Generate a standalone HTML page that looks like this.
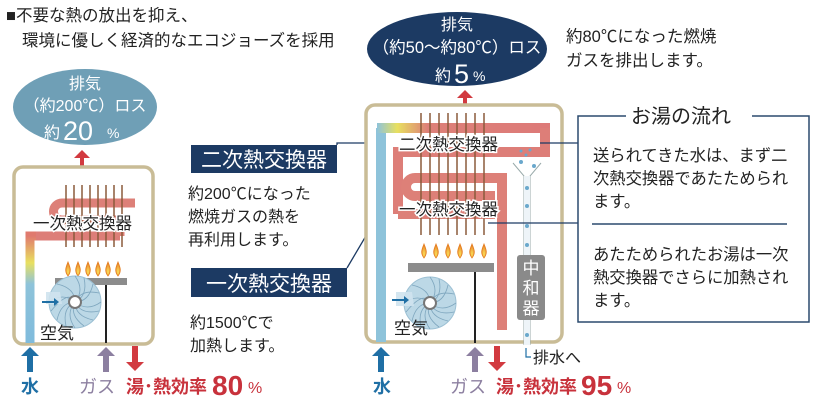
<!DOCTYPE html>
<html><head><meta charset="utf-8"><style>
html,body{margin:0;padding:0;background:#fff;}
svg{display:block;font-family:"Liberation Sans","Noto Sans CJK JP",sans-serif;}
</style></head><body>
<svg width="813" height="403" viewBox="0 0 813 403" xmlns="http://www.w3.org/2000/svg">
<defs>
<linearGradient id="gl" x1="0" y1="1" x2="0" y2="0">
<stop offset="0" stop-color="#7fbbdc"/><stop offset="0.55" stop-color="#8ec3da"/><stop offset="0.75" stop-color="#e8e060"/><stop offset="1" stop-color="#e07a6e"/></linearGradient>
<linearGradient id="gt" x1="0" y1="0" x2="1" y2="0">
<stop offset="0" stop-color="#8ec3da"/><stop offset="0.12" stop-color="#e8e060"/><stop offset="0.3" stop-color="#dd8078"/><stop offset="1" stop-color="#dd7a78"/></linearGradient>
<linearGradient id="rd" x1="0" y1="0" x2="0" y2="1">
<stop offset="0" stop-color="#d86a66"/><stop offset="1" stop-color="#c8202c"/></linearGradient>
<radialGradient id="fl" cx="0.5" cy="0.7" r="0.6"><stop offset="0" stop-color="#fbe25a"/><stop offset="1" stop-color="#e8842a"/></radialGradient>
<g id="flame"><path d="M0,0 C-4,-5 -2,-9 0,-14 C2,-9 4,-5 0,0Z" fill="url(#fl)" stroke="#e47c20" stroke-width="0.8"/></g>
<g id="fan"><circle r="26" fill="#bcd8e6" stroke="#9cc0d4"/>
<g stroke="#7ea6be" stroke-width="0.8" fill="none">
<path d="M0,-26 Q10,-12 0,0"/><path d="M18,-18 Q14,0 0,0"/><path d="M26,0 Q12,10 0,0"/><path d="M18,18 Q0,14 0,0"/><path d="M0,26 Q-10,12 0,0"/><path d="M-18,18 Q-14,0 0,0"/><path d="M-26,0 Q-12,-10 0,0"/><path d="M-18,-18 Q0,-14 0,0"/>
<path d="M9,-24 Q13,-6 0,0"/><path d="M24,-9 Q6,-13 0,0"/><path d="M24,9 Q6,13 0,0"/><path d="M9,24 Q-6,13 0,0"/><path d="M-9,24 Q-13,6 0,0"/><path d="M-24,9 Q-6,-13 0,0"/></g>
<circle r="6" fill="#fff" stroke="#777" stroke-width="2"/></g>
</defs>

<!-- Title -->
<text x="6" y="21" font-size="16.5" fill="#222">■不要な熱の放出を抑え、</text>
<text x="22" y="46" font-size="16.5" fill="#222">環境に優しく経済的なエコジョーズを採用</text>

<!-- LEFT UNIT -->
<ellipse cx="85" cy="107" rx="72" ry="38" fill="#6f9fb6"/>
<text x="85" y="89" font-size="16" fill="#fff" text-anchor="middle">排気</text>
<text x="85" y="111" font-size="16" fill="#fff" text-anchor="middle">（約200℃）ロス</text>
<text x="44" y="138" font-size="16" fill="#fff">約</text>
<text x="63" y="140" font-size="27" fill="#fff">20</text>
<text x="107" y="138" font-size="14" fill="#fff">%</text>
<path d="M80,166 V158 H74 L82,150 L90,158 H84 V166Z" fill="#d23a40"/>
<rect x="14" y="167" width="139" height="177" rx="9" fill="#fff" stroke="#c9bc96" stroke-width="3.5"/>
<path d="M30,343 V236 H120" fill="none" stroke="url(#gl)" stroke-width="9"/>
<path d="M36,236 H120" stroke="#dd7e78" stroke-width="9"/>
<path d="M120,236 V220 H62 A8.5,8.5 0 0 1 62,203 H135" fill="none" stroke="#dd8078" stroke-width="9"/>
<path d="M135,199 V338" fill="none" stroke="url(#rd)" stroke-width="9"/>
<g stroke="#8a5a3a" stroke-width="1.5">
<line x1="66" y1="185" x2="66" y2="247"/><line x1="74" y1="185" x2="74" y2="247"/><line x1="82" y1="185" x2="82" y2="247"/><line x1="90" y1="185" x2="90" y2="247"/><line x1="98" y1="185" x2="98" y2="247"/><line x1="106" y1="185" x2="106" y2="247"/><line x1="114" y1="185" x2="114" y2="247"/><line x1="122" y1="185" x2="122" y2="247"/></g>
<text x="33" y="229" font-size="16.5" fill="#222" stroke="#fff" stroke-width="3" paint-order="stroke">一次熱交換器</text>
<g><use href="#flame" x="68" y="276"/><use href="#flame" x="78" y="276"/><use href="#flame" x="88" y="276"/><use href="#flame" x="98" y="276"/><use href="#flame" x="108" y="276"/><use href="#flame" x="118" y="276"/></g>
<rect x="55" y="278" width="72" height="7" fill="#8c8c8c"/>
<line x1="106" y1="285" x2="106" y2="343" stroke="#222" stroke-width="2"/>
<use href="#fan" x="75" y="302"/>
<path d="M46,292 H60 L62,304 H46Z" fill="#cfe3ee" opacity="0.9"/>
<path d="M42,301 H54 V298 L59,302 L54,306 V303 H42Z" fill="#1f6fa5"/>
<text x="40" y="339" font-size="17" fill="#222">空気</text>
<path d="M27,372 V356 H21 L30,347 L39,356 H33 V372Z" fill="#1f6fa5"/>
<path d="M103,372 V356 H97 L106,347 L115,356 H109 V372Z" fill="#8c7fa0"/>
<path d="M132,346 V362 H126 L135,371 L144,362 H138 V346Z" fill="#d23a40"/>
<text x="21" y="393" font-size="18" font-weight="bold" fill="#1f6fa5">水</text>
<text x="79" y="393" font-size="18" fill="#8c7fa0">ガス</text>
<text x="126" y="393" font-size="18" font-weight="bold" fill="#c8323c">湯･熱効率</text>
<text x="212" y="395" font-size="28" font-weight="bold" fill="#c8323c">80</text>
<text x="248" y="393" font-size="16" fill="#c8323c">%</text>

<!-- MIDDLE LABELS -->
<rect x="191" y="145" width="146" height="28" fill="#1c3a63"/>
<text x="264" y="167" font-size="21" fill="#fff" text-anchor="middle">二次熱交換器</text>
<text x="188" y="199" font-size="16" fill="#222">約200℃になった</text>
<text x="188" y="222" font-size="16" fill="#222">燃焼ガスの熱を</text>
<text x="188" y="245" font-size="16" fill="#222">再利用します。</text>
<rect x="191" y="268" width="156" height="29" fill="#1c3a63"/>
<text x="269" y="291" font-size="21" fill="#fff" text-anchor="middle">一次熱交換器</text>
<text x="190" y="328" font-size="16" fill="#222">約1500℃で</text>
<text x="190" y="351" font-size="16" fill="#222">加熱します。</text>
<path d="M337,145 V143 H398" fill="none" stroke="#1c3a63" stroke-width="1.3"/>
<path d="M347,268 L383,207 H398" fill="none" stroke="#1c3a63" stroke-width="1.3"/>

<!-- RIGHT UNIT -->
<ellipse cx="457" cy="49" rx="90" ry="37" fill="#1c3a63"/>
<text x="457" y="30" font-size="16" fill="#fff" text-anchor="middle">排気</text>
<text x="457" y="53" font-size="16.5" fill="#fff" text-anchor="middle">（約50〜約80℃）ロス</text>
<text x="435" y="81" font-size="16" fill="#fff">約</text>
<text x="454" y="83" font-size="27" fill="#fff">5</text>
<text x="473" y="81" font-size="14" fill="#fff">%</text>
<path d="M463,104 V98 H457 L465,90 L473,98 H467 V104Z" fill="#d23a40"/>
<text x="566" y="42" font-size="16.5" fill="#222">約80℃になった燃焼</text>
<text x="566" y="66" font-size="16.5" fill="#222">ガスを排出します。</text>
<rect x="366" y="105" width="196" height="237" rx="9" fill="#fff" stroke="#c9bc96" stroke-width="3.5"/>
<path d="M381,342 V128" fill="none" stroke="#8ec3da" stroke-width="10"/>
<path d="M377,128 H545 V152 H398 V214" fill="none" stroke="url(#gt)" stroke-width="10"/>
<path d="M545,128 V152 H398 V214" fill="none" stroke="#dd7e78" stroke-width="10"/>
<path d="M398,214 H490 V196 H415 A9,9 0 0 1 415,178 H502 V330" fill="none" stroke="#dd8078" stroke-width="10"/>
<path d="M502,200 V330" fill="none" stroke="url(#rd)" stroke-width="10"/>
<g stroke="#8a5a3a" stroke-width="1.5">
<line x1="421" y1="113" x2="421" y2="235"/><line x1="430" y1="113" x2="430" y2="235"/><line x1="439" y1="113" x2="439" y2="235"/><line x1="448" y1="113" x2="448" y2="235"/><line x1="457" y1="113" x2="457" y2="235"/><line x1="466" y1="113" x2="466" y2="235"/><line x1="475" y1="113" x2="475" y2="235"/><line x1="484" y1="113" x2="484" y2="235"/></g>
<text x="399" y="150" font-size="16.5" fill="#222" stroke="#fff" stroke-width="3" paint-order="stroke">二次熱交換器</text>
<text x="399" y="215" font-size="16.5" fill="#222" stroke="#fff" stroke-width="3" paint-order="stroke">一次熱交換器</text>
<g><use href="#flame" x="424" y="258"/><use href="#flame" x="436" y="258"/><use href="#flame" x="448" y="258"/><use href="#flame" x="460" y="258"/><use href="#flame" x="472" y="258"/><use href="#flame" x="484" y="258"/></g>
<rect x="408" y="263" width="86" height="9" fill="#8c8c8c"/>
<line x1="475" y1="272" x2="475" y2="343" stroke="#222" stroke-width="2"/>
<use href="#fan" x="430" y="303"/>
<path d="M396,292 H412 L414,306 H396Z" fill="#cfe3ee" opacity="0.9"/>
<path d="M392,299 H404 V296 L409,300 L404,304 V301 H392Z" fill="#1f6fa5"/>
<text x="394" y="334" font-size="17" fill="#222">空気</text>
<path d="M513,163 L524,176 V345 M541,163 L530,176 V345" fill="none" stroke="#9aa" stroke-width="1"/>
<rect x="524" y="176" width="6" height="169" fill="#eef4f8"/>
<g fill="#6aa8cc"><circle cx="521" cy="151" r="1.5"/><circle cx="530" cy="150" r="1.5"/><circle cx="526" cy="155" r="1.5"/><circle cx="521" cy="162" r="2"/><circle cx="534" cy="166" r="2"/><circle cx="527" cy="188" r="2"/><circle cx="527" cy="206" r="2"/><circle cx="527" cy="226" r="2"/><circle cx="527" cy="245" r="2"/><circle cx="527" cy="335" r="2"/></g>
<rect x="517" y="255" width="28" height="65" rx="3" fill="#8a8a8a"/>
<text x="531" y="274" font-size="17" fill="#fff" text-anchor="middle">中</text>
<text x="531" y="294" font-size="17" fill="#fff" text-anchor="middle">和</text>
<text x="531" y="314" font-size="17" fill="#fff" text-anchor="middle">器</text>
<path d="M526,348 V357 H531" fill="none" stroke="#1f6fa5" stroke-width="1.2"/>
<text x="533" y="363" font-size="16" fill="#222">排水へ</text>
<path d="M378,372 V356 H372 L381,347 L390,356 H384 V372Z" fill="#1f6fa5"/>
<path d="M472,372 V356 H466 L475,347 L484,356 H478 V372Z" fill="#8c7fa0"/>
<path d="M494,346 V362 H488 L497,371 L506,362 H500 V346Z" fill="#d23a40"/>
<text x="373" y="393" font-size="18" font-weight="bold" fill="#1f6fa5">水</text>
<text x="450" y="393" font-size="18" fill="#8c7fa0">ガス</text>
<text x="496" y="393" font-size="18" font-weight="bold" fill="#c8323c">湯･熱効率</text>
<text x="581" y="395" font-size="28" font-weight="bold" fill="#c8323c">95</text>
<text x="617" y="393" font-size="16" fill="#c8323c">%</text>

<line x1="540" y1="143" x2="578" y2="143" stroke="#1c3a63" stroke-width="1.3"/>
<line x1="488" y1="223" x2="578" y2="223" stroke="#1c3a63" stroke-width="1.3"/>
<path d="M626,116 H578 V322 H809 V116 H752" fill="none" stroke="#2b4a6e" stroke-width="1.5"/>
<text x="631" y="123" font-size="20" fill="#222">お湯の流れ</text>
<text x="593" y="161" font-size="16.3" fill="#222">送られてきた水は、まず二</text>
<text x="593" y="184" font-size="16.3" fill="#222">次熱交換器であたためられ</text>
<text x="593" y="207" font-size="16.3" fill="#222">ます。</text>
<line x1="592" y1="224" x2="787" y2="224" stroke="#2b4a6e" stroke-width="1.5"/>
<text x="593" y="260" font-size="16.3" fill="#222">あたためられたお湯は一次</text>
<text x="593" y="283" font-size="16.3" fill="#222">熱交換器でさらに加熱され</text>
<text x="593" y="306" font-size="16.3" fill="#222">ます。</text>
</svg>
</body></html>
